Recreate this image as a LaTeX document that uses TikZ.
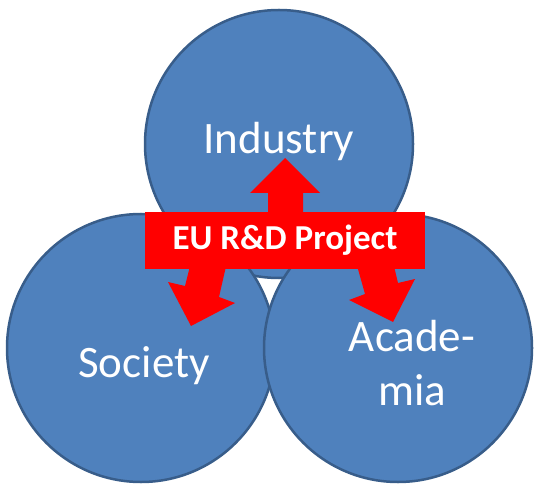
\documentclass[tikz,border=0pt]{standalone}
\usepackage{fontspec}
\setmainfont{Carlito}
\usepackage{xcolor}
\usepackage{tikz}
\usetikzlibrary{positioning}
\definecolor{circblue}{RGB}{79,129,189}
\definecolor{circedge}{RGB}{56,93,138}

\begin{document}
\begin{tikzpicture}[x=1pt,y=-1pt]

\tikzset{sphere/.style = {shape=circle,draw=circedge,fill=circblue,line width=2.5pt,minimum size=268pt,inner sep=0pt}}
\tikzset{word/.style = {text=white,font=\fontsize{45}{54}\selectfont,inner sep=0pt,anchor=base,align=center}}
\tikzset{banner/.style = {fill=red,text=white,font=\bfseries\fontsize{35}{40}\selectfont,minimum width=280pt,minimum height=57pt,inner sep=0pt}}
\tikzset{blockarrow/.style = {fill=red}}

\useasboundingbox (0,0) rectangle (540,486);

% circles
\node[sphere] (ind) at (279,144) {};
\node[sphere] (soc) at (141,348) {};
\node[sphere] (aca) at (398,348) {};

% arrows
\fill[blockarrow] (268,216) -- (268,193) -- (250,193) -- (285,158) -- (320,193) -- (303,193) -- (303,216) -- cycle;
\fill[blockarrow] (191,262) -- (185,286) -- (168,282) -- (191,326) -- (235,303) -- (219,297) -- (227,262) -- cycle;
\fill[blockarrow] (356,262) -- (365,294) -- (349,300) -- (393,322) -- (415,279) -- (398,283) -- (393,262) -- cycle;

\node[banner] (proj) at (285,240.5) {EU R\&D Project};

% labels
\node[word] (indtxt) at (279,154) {Industry};
\node[word] (soctxt) at (144,377) {Society};
\node[word] (acatxt) at (412,405) {Acade-\\mia};
\end{tikzpicture}
\end{document}
